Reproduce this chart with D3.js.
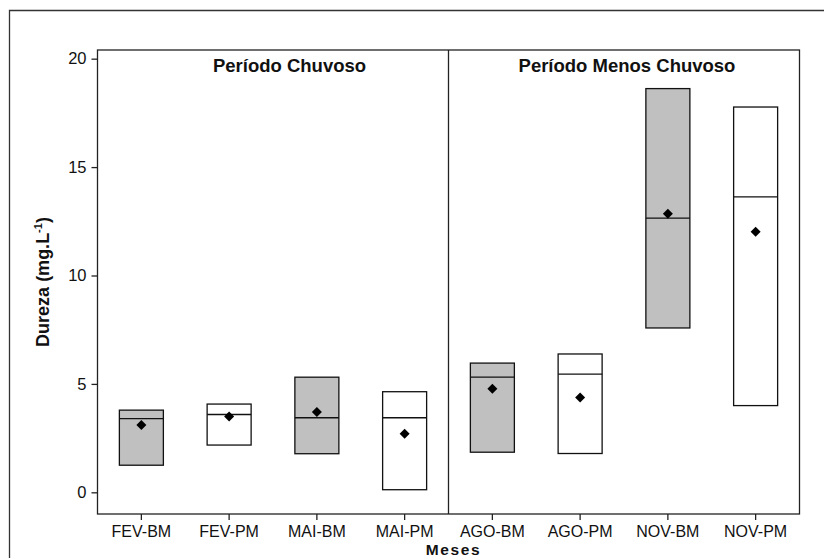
<!DOCTYPE html>
<html>
<head>
<meta charset="utf-8">
<script src="https://cdn.jsdelivr.net/npm/d3@7/dist/d3.min.js"></script>
<style>
  html, body { margin: 0; padding: 0; background: #fff; }
  svg { display: block; font-family: "Liberation Sans", Arial, Helvetica, sans-serif; }
</style>
</head>
<body>
<svg id="chart" width="824" height="558"></svg>
<script>
// Hardness per sampling month / site
const categories = ["FEV-BM", "FEV-PM", "MAI-BM", "MAI-PM", "AGO-BM", "AGO-PM", "NOV-BM", "NOV-PM"];
const lowerQuartile = [1.25, 2.18, 1.78, 0.12, 1.85, 1.79, 7.58, 4.00];
const medians       = [3.40, 3.59, 3.44, 3.44, 5.31, 5.45, 12.65, 13.63];
const upperQuartile = [3.79, 4.07, 5.31, 4.64, 5.96, 6.38, 18.62, 17.77];
const means         = [3.10, 3.50, 3.71, 2.70, 4.78, 4.37, 12.85, 12.02];
const yTicks = [0, 5, 10, 15, 20];
const periods = ["Período Chuvoso", "Período Menos Chuvoso"];

const rows = categories.map((c, i) => ({
  cat: c, q1: lowerQuartile[i], med: medians[i], q3: upperQuartile[i], mean: means[i],
  fill: c.endsWith("BM") ? "#c0c0c0" : "#ffffff"
}));

const svg = d3.select("#chart");
const plot = { left: 97.5, right: 799.5, top: 50, bottom: 514 };
const ink = "#222";

// Outer frame (left and top edges)
svg.append("path")
  .attr("d", `M9.5,558 V10.5 H824`)
  .attr("fill", "none").attr("stroke", "#333").attr("stroke-width", 1.3);

const x = d3.scaleBand().domain(categories).range([plot.left, plot.right]);
const y = d3.scaleLinear().domain([-1, 20.4]).range([plot.bottom, plot.top]);

// Plot area border
svg.append("rect")
  .attr("x", plot.left).attr("y", plot.top)
  .attr("width", plot.right - plot.left).attr("height", plot.bottom - plot.top)
  .attr("fill", "none").attr("stroke", ink).attr("stroke-width", 1.3);

// Axes
const yAxis = svg.append("g")
  .attr("transform", `translate(${plot.left},0)`)
  .call(d3.axisLeft(y).tickValues(yTicks).tickSize(6).tickPadding(5));
const xAxis = svg.append("g")
  .attr("transform", `translate(0,${plot.bottom})`)
  .call(d3.axisBottom(x).tickSize(6).tickPadding(3));
[yAxis, xAxis].forEach(g => {
  g.select(".domain").remove();
  g.selectAll(".tick line").attr("stroke", ink).attr("stroke-width", 1.3);
  g.selectAll(".tick text").attr("fill", "#111")
    .style("font-family", "'Liberation Sans', Arial, sans-serif");
});
yAxis.selectAll(".tick text").style("font-size", "16.5px");
xAxis.selectAll(".tick text").style("font-size", "16px").attr("dy", 13.5);

// Divider between the two periods
const divX = x(categories[4]);
svg.append("line")
  .attr("x1", divX).attr("x2", divX).attr("y1", plot.top).attr("y2", plot.bottom)
  .attr("stroke", ink).attr("stroke-width", 1.3);

// Period titles
const titleX = [289.5, 627];
svg.selectAll("text.period").data(periods).join("text")
  .attr("class", "period")
  .attr("x", (d, i) => titleX[i]).attr("y", 72)
  .attr("text-anchor", "middle")
  .attr("font-weight", "bold").attr("font-size", 18.5).attr("fill", "#111")
  .text(d => d);

// Boxes
const boxW = 44;
const boxes = svg.append("g").selectAll("g").data(rows).join("g")
  .attr("transform", d => `translate(${x(d.cat) + x.bandwidth() / 2},0)`);
boxes.append("rect")
  .attr("x", -boxW / 2).attr("width", boxW)
  .attr("y", d => y(d.q3)).attr("height", d => y(d.q1) - y(d.q3))
  .attr("fill", d => d.fill).attr("stroke", "#111").attr("stroke-width", 1.3);
boxes.append("line")
  .attr("x1", -boxW / 2).attr("x2", boxW / 2)
  .attr("y1", d => y(d.med)).attr("y2", d => y(d.med))
  .attr("stroke", "#111").attr("stroke-width", 1.3);
boxes.append("path")
  .attr("d", d3.symbol(d3.symbolSquare, 50))
  .attr("transform", d => `translate(0,${y(d.mean)}) rotate(45)`)
  .attr("fill", "#000");

// Axis titles
const yl = svg.append("text")
  .attr("transform", `translate(49,${(plot.top + plot.bottom) / 2}) rotate(-90)`)
  .attr("text-anchor", "middle")
  .attr("font-weight", "bold").attr("font-size", 18).attr("fill", "#111");
yl.append("tspan").text("Dureza (mg.L");
yl.append("tspan").attr("font-size", 11).attr("dy", -7).text("-1");
yl.append("tspan").attr("dy", 7).text(")");

svg.append("text")
  .attr("x", 453.5).attr("y", 554.5)
  .attr("text-anchor", "middle")
  .attr("font-weight", "bold").attr("font-size", 15.5).attr("fill", "#111")
  .attr("letter-spacing", 1.6)
  .text("Meses");
</script>
</body>
</html>
